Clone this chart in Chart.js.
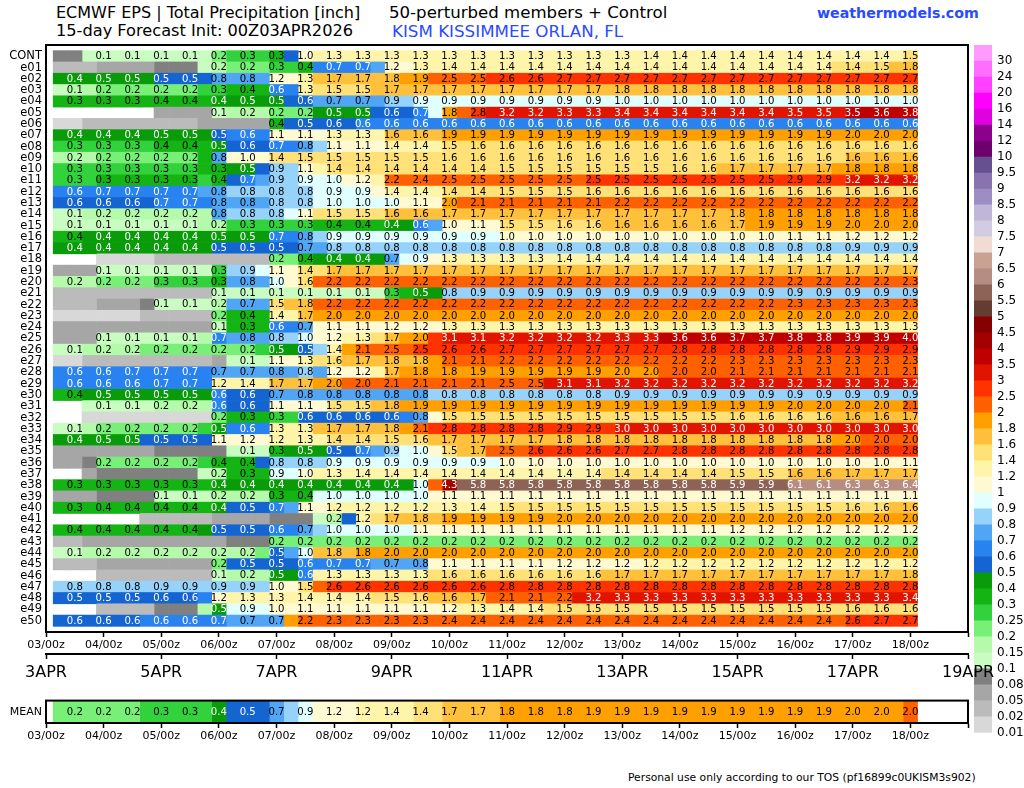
<!DOCTYPE html>
<html>
<head>
<meta charset="utf-8">
<title>ECMWF EPS Total Precipitation</title>
<script src="https://cdn.jsdelivr.net/npm/chart.js@4"></script>
<style>
body { margin: 0; background: #fff; width: 1024px; height: 788px; overflow: hidden; font-family: 'DejaVu Sans', sans-serif; }
canvas { position: absolute; left: 0; }
.txt { position: absolute; white-space: pre; color: #000; }
</style>
</head>
<body>
<div class="txt" style="left:56px;top:3px;font-size:16px">ECMWF EPS | Total Precipitation [inch]</div>
<div class="txt" style="left:389px;top:3px;font-size:16.6px">50-perturbed members + Control</div>
<div class="txt" style="left:56px;top:21px;font-size:16.2px">15-day Forecast Init: 00Z03APR2026</div>
<div class="txt" style="left:392px;top:21px;font-size:16.7px;color:#2a4bff">KISM KISSIMMEE ORLAN, FL</div>
<div class="txt" style="left:817px;top:5px;font-size:14.2px;font-weight:bold;color:#2a4bff">weathermodels.com</div>
<div class="txt" style="left:628px;top:771px;font-size:10.75px">Personal use only according to our TOS (pf16899c0UKISM3s902)</div>
<canvas id="mainChart" width="1024" height="650" style="top:0"></canvas>
<canvas id="meanChart" width="1024" height="60" style="top:690px"></canvas>
<canvas id="barChart" width="50" height="745" style="left:974px;top:0"></canvas>
<canvas id="dateChart" width="1024" height="40" style="top:650px"></canvas>
<script>
const rowNames = ['CONT','e01','e02','e03','e04','e05','e06','e07','e08','e09','e10','e11','e12','e13','e14','e15','e16','e17','e18','e19','e20','e21','e22','e23','e24','e25','e26','e27','e28','e29','e30','e31','e32','e33','e34','e35','e36','e37','e38','e39','e40','e41','e42','e43','e44','e45','e46','e47','e48','e49','e50'];
const hours = [6,12,18,24,30,36,42,48,54,60,66,72,78,84,90,96,102,108,114,120,126,132,138,144,150,156,162,168,174,180,186,192,198,204,210,216,222,228,234,240,246,252,258,264,270,276,282,288,294,300,306,312,318,324,330,336,342,348,354,360];
const dayLabels = ['03/00z','04/00z','05/00z','06/00z','07/00z','08/00z','09/00z','10/00z','11/00z','12/00z','13/00z','14/00z','15/00z','16/00z','17/00z','18/00z',''];
const dateLabels = ['3APR','5APR','7APR','9APR','11APR','13APR','15APR','17APR','19APR'];
const levels = [0.01,0.02,0.05,0.08,0.1,0.15,0.2,0.25,0.3,0.4,0.5,0.6,0.7,0.8,0.9,1,1.2,1.4,1.6,1.8,2,2.5,3,3.5,4,4.5,5,5.5,6,6.5,7,7.5,8,8.5,9,9.5,10,12,14,16,20,24,30];
const bandColors = ['#d8d8d8','#bbbbbb','#a6a6a6','#808080','#c8fcc0','#b4faaa','#78f078','#32d23c','#14b414','#0a9b0a','#1464d2','#2882f0','#50a5f5','#96d2fa','#e1ffff','#fffad2','#fff5aa','#ffe178','#ffc03c','#ffa000','#ff6000','#ff3200','#e11400','#c00000','#a50000','#870000','#643c31','#8d6357','#b58d83','#c9a294','#f0dcd2','#d2cce2','#bfb6d8','#9e8cc4','#8a72b0','#665090','#6e006e','#8c008c','#e000e0','#ff00ff','#ff40ff','#ff6eff','#ff9bff'];

const cont = [0.09,0.09,0.12,0.12,0.12,0.12,0.12,0.12,0.12,0.12,0.12,0.22,0.28,0.28,0.28,0.32,0.55,1.02,1.3,1.3,1.3,1.3,1.3,1.3,1.3,1.3,1.3,1.3,1.3,1.3,1.3,1.3,1.3,1.3,1.3,1.3,1.3,1.3,1.3,1.3,1.38,1.38,1.38,1.38,1.38,1.38,1.38,1.38,1.38,1.38,1.38,1.38,1.38,1.38,1.38,1.38,1.38,1.38,1.38,1.46];
const e01 = [0.03,0.03,0.03,0.06,0.06,0.06,0.06,0.09,0.09,0.09,0.12,0.18,0.22,0.22,0.22,0.28,0.28,0.38,0.66,0.66,0.66,0.66,0.75,1.18,1.18,1.3,1.3,1.38,1.38,1.38,1.38,1.38,1.38,1.38,1.38,1.38,1.38,1.38,1.38,1.38,1.38,1.38,1.38,1.38,1.38,1.38,1.38,1.38,1.38,1.38,1.38,1.38,1.38,1.38,1.42,1.42,1.45,1.5,1.7,1.76];
const e02 = [0.42,0.42,0.42,0.47,0.47,0.47,0.47,0.52,0.52,0.52,0.52,0.77,0.77,0.77,0.77,1.18,1.18,1.3,1.74,1.74,1.74,1.74,1.74,1.76,1.9,1.9,2.47,2.47,2.47,2.47,2.6,2.6,2.6,2.6,2.7,2.7,2.7,2.7,2.7,2.7,2.7,2.7,2.7,2.7,2.7,2.7,2.7,2.7,2.7,2.7,2.7,2.7,2.7,2.7,2.7,2.7,2.7,2.7,2.7,2.7];
const e03 = [0.12,0.15,0.18,0.22,0.22,0.22,0.22,0.22,0.22,0.22,0.28,0.28,0.37,0.37,0.37,0.62,0.62,1.3,1.5,1.5,1.5,1.5,1.66,1.66,1.66,1.66,1.66,1.66,1.66,1.66,1.66,1.66,1.66,1.66,1.66,1.66,1.66,1.66,1.78,1.78,1.78,1.78,1.78,1.78,1.78,1.78,1.78,1.78,1.78,1.78,1.78,1.78,1.78,1.78,1.78,1.78,1.78,1.78,1.78,1.78];
const e04 = [0.32,0.32,0.32,0.32,0.32,0.32,0.37,0.37,0.37,0.37,0.37,0.42,0.47,0.47,0.47,0.47,0.58,0.58,0.72,0.72,0.72,0.72,0.72,0.88,0.88,0.92,0.92,0.92,0.92,0.92,0.92,0.92,0.92,0.92,0.92,0.92,0.92,0.92,0.92,0.98,0.98,0.98,0.98,0.98,0.98,0.98,0.98,0.98,0.98,0.98,0.98,0.98,0.98,0.98,0.98,0.98,0.98,0.98,0.98,0.98];
const e05 = [0,0,0,0,0,0,0,0.06,0.06,0.06,0.06,0.12,0.18,0.18,0.18,0.22,0.22,0.22,0.47,0.47,0.47,0.47,0.58,0.58,0.58,0.66,0.95,1.82,2.4,2.8,3.2,3.2,3.2,3.2,3.3,3.3,3.3,3.3,3.4,3.4,3.4,3.4,3.4,3.4,3.4,3.4,3.4,3.4,3.4,3.4,3.4,3.48,3.48,3.48,3.48,3.52,3.52,3.6,3.7,3.8];
const e06 = [0.015,0.015,0.03,0.03,0.03,0.03,0.03,0.03,0.03,0.03,0.06,0.06,0.06,0.06,0.06,0.38,0.52,0.52,0.58,0.58,0.58,0.62,0.62,0.62,0.62,0.62,0.62,0.62,0.62,0.62,0.62,0.62,0.62,0.62,0.62,0.62,0.62,0.62,0.62,0.62,0.62,0.62,0.62,0.62,0.62,0.62,0.62,0.62,0.62,0.62,0.62,0.62,0.62,0.62,0.62,0.62,0.62,0.62,0.62,0.62];
const e07 = [0.42,0.42,0.42,0.42,0.42,0.42,0.47,0.47,0.47,0.47,0.47,0.52,0.62,0.62,0.62,1.1,1.1,1.1,1.15,1.3,1.3,1.3,1.3,1.62,1.62,1.62,1.62,1.9,1.9,1.9,1.9,1.9,1.9,1.9,1.9,1.9,1.9,1.9,1.9,1.9,1.9,1.9,1.9,1.9,1.9,1.9,1.9,1.9,1.9,1.9,1.9,1.9,1.9,1.9,1.9,1.98,1.98,1.98,1.98,1.98];
const e08 = [0.28,0.28,0.28,0.28,0.28,0.28,0.28,0.37,0.37,0.37,0.37,0.47,0.58,0.58,0.58,0.66,0.66,0.77,0.85,1.1,1.1,1.1,1.1,1.38,1.38,1.38,1.38,1.46,1.46,1.58,1.58,1.58,1.58,1.58,1.58,1.58,1.58,1.58,1.58,1.58,1.58,1.58,1.58,1.58,1.58,1.58,1.58,1.58,1.58,1.58,1.58,1.58,1.58,1.58,1.58,1.58,1.58,1.58,1.58,1.58];
const e09 = [0.18,0.18,0.18,0.22,0.22,0.22,0.22,0.22,0.22,0.22,0.32,0.78,1.02,1.02,1.02,1.42,1.42,1.5,1.5,1.5,1.5,1.5,1.5,1.5,1.5,1.5,1.5,1.58,1.58,1.58,1.58,1.58,1.58,1.58,1.58,1.58,1.58,1.58,1.58,1.58,1.58,1.58,1.58,1.58,1.58,1.58,1.58,1.58,1.58,1.58,1.58,1.58,1.58,1.58,1.58,1.62,1.62,1.62,1.62,1.62];
const e10 = [0.28,0.28,0.28,0.28,0.28,0.28,0.28,0.28,0.28,0.28,0.32,0.32,0.47,0.47,0.52,0.88,0.88,1.1,1.3,1.42,1.42,1.42,1.42,1.42,1.42,1.42,1.42,1.42,1.42,1.42,1.42,1.5,1.5,1.5,1.5,1.5,1.5,1.5,1.5,1.5,1.5,1.5,1.5,1.58,1.58,1.58,1.7,1.7,1.7,1.7,1.7,1.7,1.7,1.7,1.82,1.82,1.82,1.82,1.82,1.82];
const e11 = [0.28,0.28,0.28,0.32,0.32,0.32,0.32,0.32,0.32,0.32,0.28,0.38,0.58,0.66,0.75,0.88,0.88,0.92,0.92,0.98,1.1,1.18,1.3,2.2,2.3,2.4,2.45,2.47,2.47,2.47,2.47,2.47,2.47,2.47,2.47,2.47,2.47,2.52,2.52,2.52,2.52,2.52,2.52,2.52,2.52,2.52,2.52,2.52,2.52,2.52,2.9,2.9,2.9,2.9,2.9,3.2,3.2,3.2,3.2,3.2];
const e12 = [0.62,0.62,0.66,0.66,0.66,0.66,0.66,0.66,0.66,0.66,0.75,0.78,0.82,0.82,0.82,0.82,0.82,0.82,0.95,0.95,0.95,0.95,1.1,1.38,1.38,1.38,1.38,1.42,1.42,1.42,1.42,1.5,1.5,1.5,1.5,1.5,1.5,1.58,1.58,1.58,1.58,1.58,1.58,1.58,1.58,1.58,1.58,1.58,1.58,1.58,1.58,1.58,1.58,1.58,1.58,1.58,1.58,1.58,1.58,1.58];
const e13 = [0.58,0.58,0.58,0.58,0.58,0.58,0.58,0.66,0.66,0.66,0.66,0.77,0.77,0.77,0.77,0.82,0.82,0.82,0.98,0.98,0.98,0.98,0.98,0.98,1.1,1.1,1.1,1.98,2.1,2.1,2.1,2.1,2.1,2.1,2.1,2.1,2.1,2.1,2.1,2.2,2.2,2.2,2.2,2.2,2.2,2.2,2.2,2.2,2.2,2.2,2.2,2.2,2.2,2.2,2.2,2.2,2.2,2.2,2.2,2.2];
const e14 = [0.12,0.14,0.18,0.18,0.18,0.18,0.18,0.18,0.18,0.18,0.18,0.78,0.82,0.82,0.82,0.85,0.95,1.1,1.5,1.5,1.5,1.5,1.58,1.62,1.62,1.62,1.62,1.7,1.7,1.7,1.7,1.7,1.7,1.7,1.7,1.7,1.7,1.7,1.7,1.7,1.7,1.7,1.7,1.7,1.7,1.7,1.7,1.78,1.82,1.82,1.82,1.82,1.82,1.82,1.82,1.82,1.82,1.82,1.82,1.82];
const e15 = [0.12,0.12,0.12,0.12,0.12,0.12,0.12,0.12,0.12,0.12,0.18,0.18,0.28,0.28,0.28,0.28,0.28,0.28,0.37,0.37,0.37,0.37,0.37,0.42,0.42,0.62,0.75,1.02,1.02,1.1,1.1,1.5,1.5,1.5,1.5,1.58,1.58,1.58,1.62,1.62,1.62,1.62,1.62,1.62,1.62,1.62,1.62,1.7,1.88,1.88,1.88,1.88,1.88,1.88,1.88,1.98,1.98,1.98,1.98,1.98];
const e16 = [0.38,0.38,0.42,0.42,0.42,0.42,0.42,0.42,0.42,0.42,0.42,0.47,0.47,0.47,0.47,0.68,0.68,0.77,0.85,0.92,0.92,0.92,0.92,0.92,0.92,0.92,0.92,0.92,0.92,0.92,0.92,1.02,1.02,1.02,1.02,1.02,1.02,1.02,1.02,1.02,1.02,1.02,1.02,1.02,1.02,1.02,1.02,1.02,1.02,1.02,1.02,1.1,1.1,1.1,1.1,1.18,1.18,1.18,1.18,1.18];
const e17 = [0.42,0.42,0.42,0.42,0.42,0.42,0.42,0.42,0.42,0.42,0.42,0.52,0.52,0.52,0.52,0.52,0.52,0.72,0.75,0.82,0.82,0.82,0.82,0.82,0.82,0.82,0.82,0.82,0.82,0.82,0.82,0.82,0.82,0.82,0.82,0.82,0.82,0.82,0.82,0.82,0.82,0.82,0.82,0.82,0.82,0.82,0.82,0.82,0.82,0.82,0.82,0.82,0.82,0.82,0.82,0.88,0.88,0.88,0.88,0.88];
const e18 = [0,0,0,0.015,0.015,0.015,0.015,0.03,0.03,0.03,0.03,0.03,0.03,0.03,0.03,0.22,0.22,0.38,0.42,0.42,0.42,0.42,0.42,0.72,0.92,0.92,1.1,1.3,1.3,1.3,1.3,1.3,1.3,1.3,1.3,1.38,1.38,1.38,1.38,1.38,1.38,1.38,1.38,1.38,1.38,1.38,1.38,1.38,1.38,1.38,1.38,1.38,1.38,1.38,1.38,1.38,1.38,1.38,1.38,1.38];
const e19 = [0.06,0.06,0.06,0.12,0.12,0.12,0.12,0.12,0.12,0.12,0.12,0.28,0.88,0.88,0.92,1.1,1.1,1.45,1.55,1.7,1.7,1.7,1.7,1.7,1.7,1.7,1.7,1.7,1.7,1.7,1.7,1.7,1.7,1.7,1.7,1.7,1.7,1.7,1.7,1.7,1.7,1.7,1.7,1.7,1.7,1.7,1.7,1.7,1.7,1.7,1.7,1.7,1.7,1.7,1.7,1.7,1.7,1.7,1.7,1.7];
const e20 = [0.18,0.18,0.18,0.22,0.22,0.22,0.22,0.28,0.28,0.28,0.28,0.32,0.78,0.78,0.78,0.98,1.02,1.58,2.2,2.2,2.2,2.2,2.2,2.2,2.2,2.2,2.2,2.2,2.2,2.2,2.2,2.2,2.2,2.2,2.2,2.2,2.2,2.2,2.2,2.2,2.2,2.2,2.2,2.2,2.2,2.2,2.2,2.2,2.2,2.2,2.2,2.2,2.2,2.2,2.2,2.2,2.2,2.2,2.2,2.3];
const e21 = [0.03,0.03,0.03,0.03,0.03,0.03,0.03,0.03,0.03,0.03,0.03,0.12,0.12,0.12,0.12,0.12,0.12,0.12,0.12,0.12,0.12,0.12,0.12,0.28,0.38,0.47,0.47,0.82,0.82,0.88,0.88,0.88,0.88,0.88,0.88,0.88,0.88,0.88,0.88,0.88,0.88,0.88,0.88,0.88,0.88,0.88,0.88,0.88,0.88,0.88,0.88,0.88,0.88,0.88,0.88,0.88,0.88,0.88,0.88,0.88];
const e22 = [0.03,0.03,0.03,0.06,0.06,0.06,0.09,0.12,0.12,0.12,0.12,0.18,0.72,0.72,0.72,1.5,1.62,1.78,2.2,2.2,2.2,2.2,2.2,2.2,2.2,2.2,2.2,2.2,2.2,2.2,2.2,2.2,2.2,2.2,2.2,2.2,2.2,2.2,2.2,2.2,2.2,2.2,2.2,2.2,2.2,2.2,2.2,2.2,2.2,2.2,2.2,2.3,2.3,2.3,2.3,2.3,2.3,2.3,2.3,2.3];
const e23 = [0.015,0.015,0.015,0.015,0.015,0.015,0.03,0.03,0.03,0.03,0.03,0.22,0.38,0.38,0.38,1.38,1.38,1.7,1.98,1.98,1.98,1.98,1.98,1.98,1.98,1.98,1.98,1.98,1.98,1.98,1.98,1.98,1.98,1.98,1.98,1.98,1.98,1.98,1.98,1.98,1.98,1.98,1.98,1.98,1.98,1.98,1.98,1.98,1.98,1.98,1.98,1.98,1.98,1.98,1.98,1.98,1.98,1.98,1.98,1.98];
const e24 = [0.06,0.06,0.06,0.06,0.06,0.06,0.06,0.06,0.06,0.06,0.06,0.12,0.32,0.32,0.32,0.62,0.62,0.72,1.1,1.1,1.1,1.1,1.18,1.18,1.18,1.18,1.18,1.3,1.3,1.3,1.3,1.3,1.3,1.3,1.3,1.3,1.3,1.3,1.3,1.3,1.3,1.3,1.3,1.3,1.3,1.3,1.3,1.3,1.3,1.3,1.3,1.3,1.3,1.3,1.3,1.3,1.3,1.3,1.3,1.3];
const e25 = [0.06,0.06,0.06,0.12,0.12,0.12,0.12,0.12,0.12,0.12,0.15,0.66,0.78,0.78,0.78,0.82,0.82,0.98,1.18,1.18,1.3,1.3,1.5,1.7,1.98,1.98,2.7,3.1,3.1,3.1,3.1,3.2,3.2,3.2,3.2,3.2,3.2,3.2,3.2,3.3,3.3,3.3,3.6,3.6,3.6,3.6,3.7,3.7,3.7,3.7,3.8,3.8,3.8,3.8,3.88,3.88,3.88,3.88,3.92,3.98];
const e26 = [0.12,0.12,0.18,0.18,0.18,0.18,0.22,0.22,0.22,0.22,0.22,0.22,0.22,0.22,0.28,0.47,0.47,0.52,0.85,1.38,1.9,2.1,2.2,2.47,2.47,2.52,2.52,2.6,2.6,2.6,2.6,2.7,2.7,2.7,2.7,2.7,2.7,2.7,2.7,2.7,2.7,2.7,2.7,2.8,2.8,2.8,2.8,2.8,2.8,2.8,2.8,2.8,2.8,2.8,2.8,2.9,2.9,2.9,2.9,2.9];
const e27 = [0.015,0.015,0.03,0.03,0.03,0.03,0.03,0.03,0.03,0.03,0.03,0.06,0.12,0.12,0.12,1.1,1.1,1.3,1.5,1.58,1.62,1.7,1.7,1.78,1.78,1.78,1.9,2.1,2.1,2.1,2.1,2.2,2.2,2.2,2.2,2.2,2.2,2.2,2.2,2.2,2.2,2.2,2.2,2.2,2.2,2.2,2.2,2.3,2.3,2.3,2.3,2.3,2.3,2.3,2.3,2.3,2.3,2.3,2.3,2.3];
const e28 = [0.62,0.62,0.62,0.62,0.66,0.66,0.66,0.66,0.66,0.66,0.66,0.72,0.72,0.72,0.72,0.78,0.78,0.82,0.75,1.18,1.18,1.18,1.3,1.7,1.82,1.82,1.82,1.82,1.9,1.9,1.9,1.9,1.9,1.9,1.9,1.9,1.9,1.9,1.9,1.98,1.98,1.98,2.02,2.02,2.02,2.02,2.02,2.1,2.1,2.1,2.1,2.1,2.1,2.1,2.1,2.1,2.1,2.1,2.1,2.1];
const e29 = [0.62,0.62,0.62,0.62,0.62,0.62,0.66,0.66,0.66,0.66,0.66,1.22,1.38,1.38,1.38,1.7,1.7,1.7,1.98,1.98,2.02,2.02,2.1,2.1,2.1,2.1,2.1,2.1,2.1,2.1,2.1,2.47,2.47,2.47,3.1,3.1,3.1,3.1,3.1,3.2,3.2,3.2,3.2,3.2,3.2,3.2,3.2,3.2,3.2,3.2,3.2,3.2,3.2,3.2,3.2,3.2,3.2,3.2,3.2,3.2];
const e30 = [0.38,0.38,0.47,0.47,0.47,0.47,0.47,0.47,0.47,0.47,0.47,0.62,0.58,0.58,0.58,0.72,0.72,0.78,0.78,0.78,0.78,0.78,0.78,0.78,0.78,0.78,0.82,0.82,0.82,0.82,0.82,0.82,0.82,0.82,0.82,0.82,0.82,0.82,0.82,0.88,0.88,0.88,0.88,0.88,0.88,0.88,0.88,0.88,0.88,0.88,0.88,0.88,0.88,0.88,0.88,0.88,0.88,0.88,0.88,0.88];
const e31 = [0,0,0.12,0.12,0.12,0.12,0.12,0.18,0.18,0.18,0.18,0.62,0.58,0.58,0.58,1.1,1.1,1.1,1.1,1.46,1.5,1.5,1.78,1.78,1.9,1.9,1.9,1.9,1.9,1.9,1.9,1.9,1.9,1.9,1.9,1.9,1.9,1.9,1.9,1.9,1.9,1.9,1.9,1.9,1.9,1.9,1.9,1.9,1.9,1.9,1.9,1.98,1.98,1.98,1.98,1.98,1.98,1.98,1.98,2.1];
const e32 = [0,0,0.015,0.015,0.015,0.015,0.015,0.015,0.015,0.015,0.015,0.22,0.32,0.32,0.32,0.28,0.28,0.58,0.58,0.58,0.58,0.58,0.58,0.58,0.62,0.78,1.1,1.5,1.5,1.5,1.5,1.5,1.5,1.5,1.5,1.5,1.5,1.5,1.5,1.5,1.5,1.5,1.5,1.5,1.5,1.5,1.58,1.58,1.58,1.58,1.58,1.58,1.58,1.58,1.62,1.62,1.62,1.62,1.62,1.7];
const e33 = [0.12,0.12,0.18,0.22,0.22,0.22,0.22,0.22,0.22,0.22,0.28,0.47,0.62,0.62,0.62,1.3,1.3,1.3,1.7,1.7,1.7,1.7,1.7,1.78,1.9,2.1,2.7,2.8,2.8,2.8,2.8,2.8,2.8,2.8,2.8,2.9,2.9,2.9,2.9,3.02,3.02,3.02,3.02,3.02,3.02,3.02,3.02,3.02,3.02,3.02,3.02,3.02,3.02,3.02,3.02,3.02,3.02,3.02,3.02,3.02];
const e34 = [0.42,0.42,0.47,0.47,0.47,0.47,0.52,0.52,0.52,0.52,0.52,1.1,1.18,1.18,1.18,1.22,1.22,1.3,1.38,1.42,1.42,1.42,1.42,1.5,1.55,1.58,1.62,1.7,1.7,1.7,1.7,1.7,1.7,1.7,1.7,1.78,1.78,1.78,1.78,1.78,1.78,1.78,1.78,1.78,1.78,1.78,1.78,1.78,1.78,1.78,1.78,1.78,1.78,1.78,1.98,1.98,2.02,2.02,2.02,2.02];
const e35 = [0.06,0.06,0.06,0.06,0.06,0.06,0.06,0.09,0.09,0.09,0.09,0.09,0.12,0.12,0.12,0.32,0.47,0.47,0.47,0.52,0.55,0.66,0.75,0.88,0.98,0.98,1.1,1.46,1.6,1.66,2.4,2.47,2.47,2.6,2.6,2.6,2.6,2.6,2.6,2.7,2.7,2.7,2.7,2.8,2.8,2.8,2.8,2.8,2.8,2.8,2.8,2.8,2.8,2.8,2.8,2.8,2.8,2.8,2.8,2.8];
const e36 = [0.06,0.06,0.09,0.22,0.22,0.22,0.22,0.22,0.22,0.22,0.28,0.38,0.38,0.38,0.58,0.82,0.82,0.82,0.85,0.92,0.92,0.92,0.92,0.92,0.92,0.92,0.92,0.92,0.92,0.92,0.98,1.02,1.02,1.02,1.02,1.02,1.02,1.02,1.02,1.02,1.02,1.02,1.02,1.02,1.02,1.02,1.02,1.02,1.02,1.02,1.02,1.02,1.02,1.02,1.02,1.02,1.02,1.02,1.02,1.1];
const e37 = [0,0,0.06,0.09,0.09,0.09,0.09,0.09,0.09,0.09,0.12,0.18,0.32,0.32,0.32,0.92,0.92,1.02,1.3,1.3,1.38,1.38,1.38,1.38,1.38,1.38,1.38,1.38,1.38,1.38,1.38,1.38,1.38,1.38,1.38,1.38,1.38,1.38,1.42,1.42,1.42,1.42,1.42,1.42,1.42,1.42,1.42,1.5,1.5,1.5,1.5,1.62,1.62,1.62,1.62,1.7,1.7,1.7,1.7,1.7];
const e38 = [0.32,0.32,0.32,0.32,0.32,0.32,0.32,0.32,0.32,0.32,0.32,0.42,0.42,0.42,0.42,0.42,0.42,0.42,0.42,0.42,0.42,0.42,0.42,0.42,0.42,0.98,2.3,4.3,5.8,5.8,5.8,5.8,5.8,5.8,5.8,5.8,5.8,5.8,5.8,5.8,5.8,5.8,5.8,5.8,5.8,5.8,5.8,5.9,5.9,5.9,5.9,6.1,6.1,6.1,6.1,6.3,6.3,6.3,6.3,6.4];
const e39 = [0.06,0.06,0.06,0.09,0.09,0.09,0.09,0.12,0.12,0.12,0.12,0.18,0.18,0.18,0.18,0.32,0.32,0.38,0.98,0.98,0.98,0.98,0.98,0.98,0.98,0.98,1.1,1.1,1.1,1.1,1.1,1.1,1.1,1.1,1.1,1.1,1.1,1.1,1.1,1.1,1.1,1.1,1.1,1.1,1.1,1.1,1.1,1.1,1.1,1.1,1.1,1.1,1.1,1.1,1.1,1.1,1.1,1.1,1.1,1.1];
const e40 = [0.32,0.32,0.37,0.37,0.37,0.37,0.37,0.37,0.37,0.37,0.37,0.42,0.52,0.52,0.52,0.66,0.75,1.1,1.18,1.22,1.22,1.22,1.22,1.22,1.22,1.22,1.22,1.3,1.3,1.38,1.38,1.5,1.5,1.5,1.5,1.5,1.5,1.5,1.5,1.5,1.5,1.5,1.5,1.5,1.5,1.5,1.5,1.5,1.5,1.5,1.5,1.5,1.5,1.5,1.5,1.58,1.58,1.58,1.62,1.62];
const e41 = [0,0,0,0,0,0,0.03,0.03,0.03,0.03,0.03,0.06,0.06,0.06,0.06,0.09,0.09,0.09,0.12,0.18,0.52,1.22,1.5,1.7,1.78,1.78,1.78,1.9,1.9,1.9,1.9,1.9,1.9,1.9,1.9,1.98,1.98,1.98,1.98,1.98,1.98,1.98,1.98,1.98,1.98,1.98,1.98,1.98,1.98,1.98,1.98,1.98,1.98,1.98,1.98,1.98,1.98,1.98,1.98,1.98];
const e42 = [0.37,0.37,0.37,0.37,0.37,0.37,0.37,0.37,0.37,0.37,0.42,0.52,0.52,0.52,0.52,0.62,0.62,0.72,0.8,0.98,0.98,0.98,0.98,0.98,0.98,1.1,1.1,1.1,1.1,1.1,1.1,1.1,1.1,1.1,1.1,1.1,1.1,1.1,1.1,1.1,1.1,1.1,1.1,1.1,1.1,1.1,1.1,1.18,1.18,1.18,1.18,1.18,1.18,1.18,1.18,1.18,1.18,1.18,1.18,1.18];
const e43 = [0.03,0.03,0.06,0.06,0.06,0.06,0.06,0.06,0.06,0.06,0.06,0.06,0.09,0.09,0.09,0.22,0.22,0.22,0.22,0.22,0.22,0.22,0.22,0.22,0.22,0.22,0.22,0.22,0.22,0.22,0.22,0.22,0.22,0.22,0.22,0.22,0.22,0.22,0.22,0.22,0.22,0.22,0.22,0.22,0.22,0.22,0.22,0.22,0.22,0.22,0.22,0.22,0.22,0.22,0.22,0.22,0.22,0.22,0.22,0.22];
const e44 = [0.12,0.12,0.18,0.18,0.18,0.18,0.18,0.18,0.18,0.18,0.18,0.18,0.18,0.18,0.22,0.52,0.75,0.98,1.78,1.78,1.78,1.82,1.82,1.98,1.98,1.98,1.98,1.98,1.98,1.98,1.98,1.98,1.98,1.98,1.98,1.98,1.98,1.98,1.98,1.98,1.98,1.98,1.98,1.98,1.98,1.98,1.98,1.98,1.98,1.98,1.98,1.98,1.98,1.98,1.98,1.98,1.98,1.98,1.98,1.98];
const e45 = [0.03,0.03,0.03,0.06,0.06,0.06,0.06,0.06,0.06,0.06,0.06,0.22,0.52,0.52,0.52,0.52,0.52,0.62,0.68,0.68,0.68,0.68,0.72,0.72,0.72,0.78,1.1,1.1,1.1,1.1,1.1,1.1,1.1,1.1,1.1,1.18,1.18,1.18,1.18,1.18,1.18,1.22,1.22,1.22,1.22,1.22,1.22,1.22,1.22,1.22,1.22,1.22,1.22,1.22,1.22,1.22,1.22,1.22,1.22,1.22];
const e46 = [0,0,0,0.03,0.03,0.03,0.03,0.03,0.03,0.03,0.03,0.12,0.18,0.18,0.18,0.47,0.47,0.62,1.3,1.3,1.3,1.3,1.3,1.3,1.3,1.3,1.58,1.58,1.58,1.58,1.58,1.58,1.58,1.58,1.58,1.58,1.58,1.58,1.7,1.7,1.7,1.7,1.7,1.7,1.7,1.7,1.7,1.7,1.7,1.7,1.7,1.7,1.7,1.7,1.7,1.7,1.7,1.7,1.7,1.78];
const e47 = [0.82,0.82,0.82,0.82,0.82,0.82,0.88,0.88,0.88,0.88,0.88,0.88,0.88,0.88,0.88,1.02,1.02,1.5,2.47,2.6,2.6,2.6,2.6,2.6,2.6,2.6,2.6,2.6,2.6,2.6,2.6,2.8,2.8,2.8,2.8,2.8,2.8,2.8,2.8,2.8,2.8,2.8,2.8,2.8,2.8,2.8,2.8,2.8,2.8,2.8,2.8,2.8,2.8,2.8,2.8,2.8,2.8,2.8,2.8,2.8];
const e48 = [0.52,0.52,0.52,0.52,0.52,0.52,0.58,0.58,0.58,0.58,0.62,1.18,1.3,1.3,1.3,1.3,1.3,1.38,1.38,1.38,1.38,1.38,1.5,1.5,1.58,1.58,1.62,1.62,1.62,1.7,2.05,2.1,2.1,2.1,2.2,2.2,3.15,3.2,3.25,3.3,3.3,3.3,3.3,3.3,3.3,3.3,3.3,3.3,3.3,3.3,3.3,3.3,3.3,3.3,3.3,3.3,3.3,3.3,3.3,3.4];
const e49 = [0,0,0,0.03,0.03,0.03,0.03,0.09,0.09,0.09,0.18,0.47,0.92,0.92,0.92,1.02,1.02,1.1,1.1,1.1,1.1,1.1,1.1,1.1,1.1,1.1,1.1,1.18,1.22,1.3,1.3,1.38,1.38,1.38,1.42,1.5,1.5,1.5,1.5,1.5,1.5,1.5,1.5,1.5,1.5,1.5,1.5,1.5,1.5,1.5,1.5,1.5,1.5,1.5,1.5,1.58,1.58,1.58,1.58,1.58];
const e50 = [0.58,0.58,0.58,0.58,0.58,0.58,0.62,0.62,0.62,0.62,0.62,0.66,0.72,0.72,0.72,0.72,1.9,2.2,2.2,2.3,2.3,2.3,2.3,2.3,2.3,2.3,2.3,2.4,2.4,2.4,2.4,2.4,2.4,2.4,2.4,2.4,2.4,2.4,2.4,2.4,2.4,2.4,2.4,2.4,2.4,2.4,2.4,2.4,2.4,2.4,2.4,2.4,2.4,2.4,2.4,2.6,2.65,2.7,2.7,2.7];
const meanRow = [0.22,0.22,0.22,0.22,0.22,0.22,0.28,0.28,0.28,0.28,0.28,0.42,0.52,0.52,0.52,0.72,0.85,0.92,1.1,1.18,1.18,1.22,1.22,1.38,1.38,1.42,1.42,1.7,1.7,1.7,1.7,1.82,1.82,1.82,1.82,1.82,1.82,1.9,1.9,1.9,1.9,1.9,1.9,1.9,1.9,1.9,1.9,1.9,1.9,1.9,1.9,1.9,1.9,1.9,1.9,1.98,1.98,1.98,1.98,2.02];
const members = [cont,e01,e02,e03,e04,e05,e06,e07,e08,e09,e10,e11,e12,e13,e14,e15,e16,e17,e18,e19,e20,e21,e22,e23,e24,e25,e26,e27,e28,e29,e30,e31,e32,e33,e34,e35,e36,e37,e38,e39,e40,e41,e42,e43,e44,e45,e46,e47,e48,e49,e50];

Chart.defaults.font.family = "'DejaVu Sans', sans-serif";
Chart.defaults.color = '#000';
Chart.defaults.animation = false;
Chart.defaults.responsive = false;
Chart.defaults.plugins.legend.display = false;
Chart.defaults.plugins.tooltip.enabled = false;

function bandColor(v) {
    let color = 'rgba(0,0,0,0)';
    levels.forEach((lev, i) => { if (v >= lev) color = bandColors[i]; });
    return color;
}

// black box round the plot area
const framePlugin = {
    id: 'frame',
    afterDraw(chart) {
        const a = chart.chartArea, ctx = chart.ctx;
        ctx.save();
        ctx.strokeStyle = '#000';
        ctx.lineWidth = 2;
        ctx.strokeRect(a.left, a.top, a.right - a.left, a.bottom - a.top);
        ctx.restore();
    }
};

// value text on every second step, the reference text is a bit narrow
const cellTextPlugin = {
    id: 'cellText',
    afterDatasetsDraw(chart) {
        const ctx = chart.ctx, xs = chart.scales.x, ys = chart.scales.y;
        const rows = chart.options.plugins.cellText.rows;
        ctx.save();
        ctx.font = "11px 'DejaVu Sans'";
        ctx.textAlign = 'center';
        ctx.textBaseline = 'middle';
        rows.forEach((row, r) => {
            row.forEach((v, i) => {
                if (i % 2 === 0 || v < 0.1) return;
                ctx.fillStyle = (v >= 0.395 && v < 0.7) || v >= 2.95 ? '#fff' : '#000';
                const yPos = ys.type === 'category' ? ys.getPixelForTick(r) : ys.getPixelForValue(r);
                ctx.save();
                ctx.translate(xs.getPixelForValue(hours[i]), yPos);
                ctx.scale(0.92, 1);
                ctx.fillText(v.toFixed(1), 0, 0);
                ctx.restore();
            });
        });
        ctx.restore();
    }
};

function timeAxis(labels, step, fontSize, boxHeight, pad) {
    return {
        type: 'linear',
        min: 0,
        max: 384,
        offset: false,
        afterFit: s => { s.height = boxHeight; },
        afterBuildTicks: s => { s.ticks = labels.map((t, i) => ({ value: i * step })); },
        border: { color: '#000', width: 2 },
        grid: { offset: false, drawOnChartArea: false, tickLength: 5, tickColor: '#000', tickWidth: 1.5 },
        ticks: {
            autoSkip: false,
            maxRotation: 0,
            padding: pad,
            font: { size: fontSize },
            callback: (v) => labels[v / step]
        }
    };
}

new Chart(document.getElementById('mainChart'), {
    type: 'bar',
    data: {
        datasets: hours.map((h, i) => ({
            data: members.map((row, r) => ({ x: [h - 3, h + 3], y: r })),
            backgroundColor: members.map(row => bandColor(row[i])),
            grouped: false,
            barPercentage: 1,
            categoryPercentage: 1
        }))
    },
    options: {
        indexAxis: 'y',
        layout: { padding: { top: 45, right: 56 } },
        scales: {
            x: timeAxis(dayLabels, 24, 11, 18, 2),
            y: {
                type: 'linear',
                reverse: true,
                offset: false,
                min: -1,
                max: 51,
                afterFit: s => { s.width = 46; },
                border: { display: false },
                grid: { display: false, drawTicks: false, offset: false },
                ticks: {
                    stepSize: 1,
                    autoSkip: false,
                    padding: 4,
                    font: { size: 11.5 },
                    callback: v => rowNames[v] || ''
                }
            }
        },
        plugins: { cellText: { rows: members } }
    },
    plugins: [cellTextPlugin, framePlugin]
});

new Chart(document.getElementById('dateChart'), {
    type: 'bar',
    data: { datasets: [] },
    options: {
        layout: { padding: { left: 46, right: 56 } },
        scales: {
            x: timeAxis(dateLabels, 48, 16, 36, 4),
            y: { display: false }
        }
    }
});

new Chart(document.getElementById('meanChart'), {
    type: 'bar',
    data: {
        labels: ['MEAN'],
        datasets: hours.map((h, i) => ({
            data: [{ x: [h - 3, h + 3], y: 'MEAN' }],
            backgroundColor: bandColor(meanRow[i]),
            grouped: false,
            barPercentage: 1,
            categoryPercentage: 1
        }))
    },
    options: {
        indexAxis: 'y',
        layout: { padding: { top: 6, right: 56 } },
        scales: {
            x: timeAxis(dayLabels, 24, 11, 27, 2),
            y: {
                type: 'category',
                afterFit: s => { s.width = 46; },
                border: { display: false },
                grid: { display: false, drawTicks: false },
                ticks: { padding: 4, font: { size: 11 } }
            }
        },
        plugins: { cellText: { rows: [meanRow] } }
    },
    plugins: [cellTextPlugin, framePlugin]
});

new Chart(document.getElementById('barChart'), {
    type: 'bar',
    data: {
        labels: ['band'],
        datasets: levels.map((lev, i) => ({
            data: [[i, i + 1]],
            backgroundColor: bandColors[i],
            grouped: false,
            barPercentage: 1,
            categoryPercentage: 1
        }))
    },
    options: {
        layout: { padding: { top: 45, bottom: 12 } },
        scales: {
            x: { display: false },
            y: {
                type: 'linear',
                position: 'right',
                min: 0,
                max: 43,
                afterFit: s => { s.width = 32; },
                border: { display: false },
                grid: { display: false, drawTicks: false },
                ticks: {
                    stepSize: 1,
                    autoSkip: false,
                    padding: 5,
                    font: { size: 12 },
                    callback: v => (v < 43 ? String(levels[v]) : '')
                }
            }
        }
    }
});
</script>
</body>
</html>
